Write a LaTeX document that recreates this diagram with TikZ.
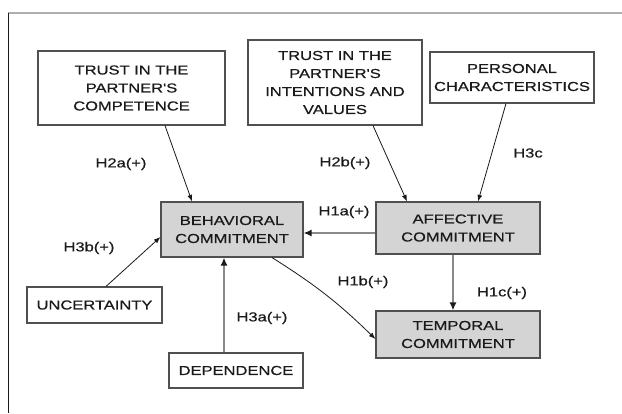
\documentclass[tikz,border=0pt]{standalone}
\usepackage{fontspec}
\usetikzlibrary{arrows.meta,calc,positioning}
\newfontfamily\boxfont[FakeStretch=1.27,FakeBold=0.6]{Liberation Sans}
\definecolor{ink}{HTML}{1A1A1A}
\definecolor{edge}{HTML}{505050}
\definecolor{shade}{HTML}{D4D4D4}
\definecolor{wire}{HTML}{8A8A8A}
\definecolor{rule}{HTML}{B0B0B0}

\begin{document}
\begin{tikzpicture}[x=1pt,y=-1pt,>=Latex,text=ink,
  font=\boxfont\fontsize{13}{18}\selectfont,
  factor/.style={draw=edge,line width=1.1pt,fill=white,align=center,inner sep=0pt},
  commit/.style={factor,fill=shade},
  link/.style={->,ink,line width=0.8pt},
  grey link/.style={wire,line width=2pt,arrows={-Latex[ink,length=8pt,width=7pt]}}]
  \useasboundingbox (0,0) rectangle (622,413);
  \fill[white] (0,0) rectangle (622,413);
  % frame
  \draw[rule,line width=2pt] (8,13) -- (622,13);
  \draw[ink,line width=0.9pt] (8,13) -- (8,413);
  % boxes
  \node[factor,minimum width=187pt,minimum height=74pt] (comp) at (131.5,88) {TRUST IN THE\\PARTNER'S\\COMPETENCE};
  \node[factor,minimum width=174pt,minimum height=85pt] (intent) at (335,82.5) {TRUST IN THE\\PARTNER'S\\INTENTIONS AND\\VALUES};
  \node[factor,minimum width=164pt,minimum height=51pt] (pers) at (512,77.5) {PERSONAL\\CHARACTERISTICS};
  \node[commit,minimum width=142pt,minimum height=55pt] (beh) at (232,229.5) {BEHAVIORAL\\COMMITMENT};
  \node[commit,minimum width=164pt,minimum height=52pt] (aff) at (458,228) {AFFECTIVE\\COMMITMENT};
  \node[commit,minimum width=164pt,minimum height=47pt] (temp) at (458,334.5) {TEMPORAL\\COMMITMENT};
  \node[factor,minimum width=135pt,minimum height=36pt] (unc) at (94.5,305) {UNCERTAINTY};
  \node[factor,minimum width=134pt,minimum height=35pt] (dep) at (236,370.5) {DEPENDENCE};
  % connectors
  \draw[link] ([xshift=33.5pt]comp.south) -- ([xshift=-40pt]beh.north);
  \draw[link] ([xshift=38pt]intent.south) -- ([xshift=-51pt]aff.north);
  \draw[link] ([xshift=-6pt]pers.south) -- ([xshift=20pt]aff.north);
  \draw[link] ([xshift=11.5pt]unc.north) -- ([yshift=-7.5pt]beh.west);
  \draw[link] ([xshift=40pt]beh.south) to[bend left=6] ([yshift=-4.5pt]temp.west);
  \draw[grey link] ([yshift=-5pt]aff.west) -- ([yshift=-5pt]aff.west -| beh.east);
  \draw[grey link] ([xshift=-5pt]aff.south) -- ([xshift=-5pt]aff.south |- temp.north);
  \draw[grey link] ([xshift=-12pt]dep.north) -- ([xshift=-12pt]dep.north |- beh.south);
  % hypothesis labels
  \node (h2a) at (121,164) {H2a(+)};
  \node (h2b) at (345,163) {H2b(+)};
  \node (h3c) at (528,153) {H3c};
  \node (h1a) at (344,212) {H1a(+)};
  \node (h3b) at (89,248) {H3b(+)};
  \node (h1b) at (363,282) {H1b(+)};
  \node (h1c) at (502,293) {H1c(+)};
  \node (h3a) at (262,318) {H3a(+)};
\end{tikzpicture}
\end{document}
